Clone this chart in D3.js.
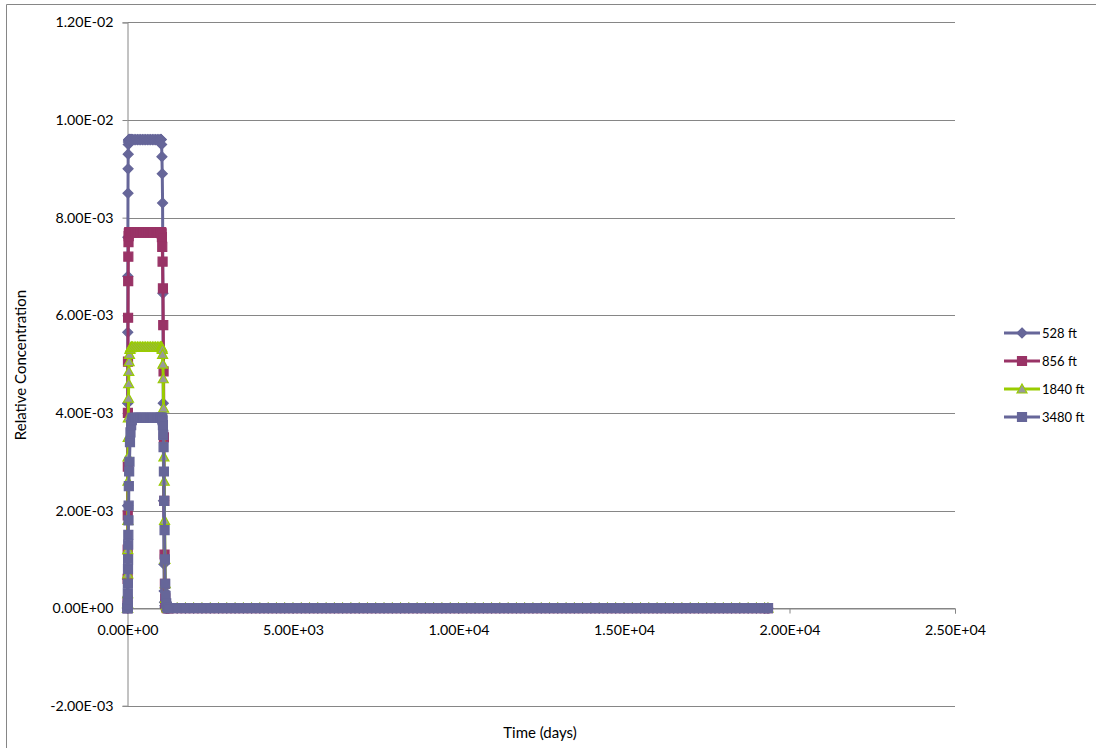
<!DOCTYPE html>
<html>
<head>
<meta charset="utf-8">
<script src="https://cdn.jsdelivr.net/npm/d3@7/dist/d3.min.js"></script>
<style>
  html, body { margin: 0; padding: 0; background: #fff; }
  svg { display: block; font-family: Lato, "Liberation Sans", sans-serif; }
</style>
</head>
<body>
<svg id="chart" width="1096" height="748"></svg>
<script>
// ---- data ----
const seriesNames = ["528 ft", "856 ft", "1840 ft", "3480 ft"];

const days = [
  0, 2, 4, 6, 8, 10, 12, 15, 18, 21, 25, 30, 35, 40, 50, 60, 75, 90, 110, 130, 150,
  200, 250, 300, 350, 400, 450, 500, 550, 600, 650, 700, 750, 800, 850, 900, 950, 1000,
  1010, 1020, 1030, 1040, 1050, 1060, 1070, 1080, 1090, 1100, 1110, 1120, 1130, 1140, 1150, 1170, 1190, 1220,
  1250, 1500, 1750, 2000, 2250, 2500, 2750, 3000, 3250, 3500, 3750, 4000, 4250, 4500, 4750,
  5000, 5250, 5500, 5750, 6000, 6250, 6500, 6750, 7000, 7250, 7500, 7750, 8000, 8250, 8500, 8750,
  9000, 9250, 9500, 9750, 10000, 10250, 10500, 10750, 11000, 11250, 11500, 11750, 12000, 12250,
  12500, 12750, 13000, 13250, 13500, 13750, 14000, 14250, 14500, 14750, 15000, 15250, 15500,
  15750, 16000, 16250, 16500, 16750, 17000, 17250, 17500, 17750, 18000, 18250, 18500, 18750,
  19000, 19250, 19350
];

// concentration values (x 1E-3) during the pulse, one per day entry up to 1220 days
const c528pulse = [
  0, 0.6, 2.1, 4.2, 5.65, 6.8, 7.6, 8.5, 9.0, 9.3, 9.5, 9.55, 9.58, 9.6, 9.6, 9.6, 9.6, 9.6, 9.6, 9.6, 9.6,
  9.6, 9.6, 9.6, 9.6, 9.6, 9.6, 9.6, 9.6, 9.6, 9.6, 9.6, 9.6, 9.6, 9.6, 9.6, 9.6, 9.6,
  9.6, 9.6, 9.5, 9.25, 8.9, 8.3, 6.45, 4.2, 2.2, 0.9, 0.35, 0.12, 0.05, 0.02, 0.01, 0, 0, 0
];
const c856pulse = [
  0, 0.1, 0.6, 1.2, 1.9, 2.9, 4.0, 5.05, 5.95, 6.7, 7.2, 7.5, 7.62, 7.68, 7.7, 7.7, 7.7, 7.7, 7.7, 7.7, 7.7,
  7.7, 7.7, 7.7, 7.7, 7.7, 7.7, 7.7, 7.7, 7.7, 7.7, 7.7, 7.7, 7.7, 7.7, 7.7, 7.7, 7.7,
  7.7, 7.7, 7.68, 7.6, 7.4, 7.1, 6.55, 5.8, 4.85, 3.5, 2.2, 1.1, 0.5, 0.2, 0.08, 0.02, 0, 0
];
const c1840pulse = [
  0, 0, 0.1, 0.3, 0.7, 1.2, 1.8, 2.6, 3.1, 3.5, 3.9, 4.3, 4.6, 4.85, 5.05, 5.2, 5.3, 5.33, 5.35, 5.35, 5.35,
  5.35, 5.35, 5.35, 5.35, 5.35, 5.35, 5.35, 5.35, 5.35, 5.35, 5.35, 5.35, 5.35, 5.35, 5.35, 5.35, 5.35,
  5.35, 5.35, 5.35, 5.33, 5.3, 5.2, 5.0, 4.7, 4.1, 3.1, 2.6, 1.8, 1.0, 0.5, 0.2, 0.05, 0.01, 0
];
const c3480pulse = [
  0, 0, 0, 0.05, 0.15, 0.3, 0.5, 0.8, 1.0, 1.3, 1.5, 1.8, 2.1, 2.5, 2.8, 3.0, 3.4, 3.6, 3.75, 3.85, 3.9,
  3.9, 3.9, 3.9, 3.9, 3.9, 3.9, 3.9, 3.9, 3.9, 3.9, 3.9, 3.9, 3.9, 3.9, 3.9, 3.9, 3.9,
  3.9, 3.9, 3.9, 3.9, 3.88, 3.85, 3.75, 3.55, 3.3, 2.8, 2.2, 1.6, 1.0, 0.5, 0.25, 0.1, 0.03, 0
];
// long tail after the pulse (x 1E-3), days 1250 .. 19350
const cTail = [
  0, 0, 0, 0, 0, 0, 0, 0, 0, 0, 0, 0, 0, 0, 0,
  0, 0, 0, 0, 0, 0, 0, 0, 0, 0, 0, 0, 0, 0, 0,
  0, 0, 0, 0, 0, 0, 0, 0, 0, 0, 0, 0, 0, 0, 0,
  0, 0, 0, 0, 0, 0, 0, 0, 0, 0, 0, 0, 0, 0, 0,
  0, 0, 0, 0, 0, 0, 0, 0, 0, 0, 0, 0, 0, 0
];

const yTicks = [-0.002, 0, 0.002, 0.004, 0.006, 0.008, 0.010, 0.012];
const yTickLabels = ["-2.00E-03", "0.00E+00", "2.00E-03", "4.00E-03", "6.00E-03", "8.00E-03", "1.00E-02", "1.20E-02"];
const xTicks = [0, 5000, 10000, 15000, 20000, 25000];
const xTickLabels = ["0.00E+00", "5.00E+03", "1.00E+04", "1.50E+04", "2.00E+04", "2.50E+04"];

// ---- build ----
const pulses = [c528pulse, c856pulse, c1840pulse, c3480pulse];
const styles = [
  { color: "#666699", fill: "#666699", marker: "diamond" },
  { color: "#993366", fill: "#993366", marker: "square" },
  { color: "#99CC00", fill: "#999999", marker: "triangle" },
  { color: "#666699", fill: "#666699", marker: "square" }
];
const series = seriesNames.map((name, i) => {
  const vals = pulses[i].concat(cTail);
  return { name, style: styles[i], points: days.map((d, j) => ({ x: d, y: vals[j] * 1e-3 })) };
});

const svg = d3.select("#chart");
const plotL = 127.5, plotR = 955, plotT = 22.4, plotB = 705.8;
const x = d3.scaleLinear().domain([0, 25000]).range([plotL, plotR]);
const y = d3.scaleLinear().domain([-0.002, 0.012]).range([plotB, plotT]);

// chart border
svg.append("path").attr("d", `M6.5,748 V4.5 H1096`).attr("fill", "none").attr("stroke", "#868686").attr("stroke-width", 1);

// gridlines
svg.append("g").selectAll("line").data(yTicks).join("line")
  .attr("x1", plotL).attr("x2", plotR)
  .attr("y1", d => Math.round(y(d)) + 0.5).attr("y2", d => Math.round(y(d)) + 0.5)
  .attr("stroke", "#868686").attr("stroke-width", 1);

// y axis
const yAxis = d3.axisLeft(y).tickValues(yTicks).tickFormat((d, i) => yTickLabels[i]).tickSize(5).tickPadding(9);
const gy = svg.append("g").attr("transform", `translate(${plotL},0)`).call(yAxis);
gy.select(".domain").attr("stroke", "#868686");
gy.selectAll(".tick line").attr("stroke", "#868686");
gy.selectAll(".tick text").attr("font-family", "Lato, sans-serif").attr("font-size", 14.2).attr("fill", "#000");

// x axis at y=0
const xAxis = d3.axisBottom(x).tickValues(xTicks).tickFormat((d, i) => xTickLabels[i]).tickSize(5).tickPadding(11);
const gx = svg.append("g").attr("transform", `translate(0,${Math.round(y(0)) + 0.5})`).call(xAxis);
gx.select(".domain").attr("stroke", "#868686");
gx.selectAll(".tick line").attr("stroke", "#868686");
gx.selectAll(".tick text").attr("font-family", "Lato, sans-serif").attr("font-size", 14.2).attr("fill", "#000");

// axis titles
svg.append("text").attr("x", 540).attr("y", 738).attr("text-anchor", "middle")
  .attr("font-size", 15).attr("fill", "#000").text("Time (days)");
svg.append("text").attr("transform", `translate(26,365) rotate(-90)`).attr("text-anchor", "middle")
  .attr("font-size", 15).attr("fill", "#000").text("Relative Concentration");

// markers
function markerPath(type, cx, cy) {
  if (type === "diamond") return `M${cx},${cy - 5} L${cx + 5},${cy} L${cx},${cy + 5} L${cx - 5},${cy} Z`;
  if (type === "square") return `M${cx - 4.5},${cy - 4.5} h9 v9 h-9 Z`;
  return `M${cx},${cy - 5} L${cx + 5},${cy + 4} L${cx - 5},${cy + 4} Z`;
}

const line = d3.line().x(d => x(d.x)).y(d => y(d.y));
const gs = svg.append("g");
series.forEach(s => {
  const g = gs.append("g");
  g.append("path").datum(s.points).attr("d", line)
    .attr("fill", "none").attr("stroke", s.style.color).attr("stroke-width", 3).attr("stroke-linejoin", "round");
  g.selectAll("path.m").data(s.points).join("path").attr("class", "m")
    .attr("d", d => markerPath(s.style.marker, x(d.x), y(d.y)))
    .attr("fill", s.style.fill).attr("stroke", s.style.color).attr("stroke-width", 1.2);
});

// legend
const legendY = [333, 361, 389, 417];
const lg = svg.append("g");
series.forEach((s, i) => {
  const yy = legendY[i];
  lg.append("line").attr("x1", 1004).attr("x2", 1040).attr("y1", yy).attr("y2", yy)
    .attr("stroke", s.style.color).attr("stroke-width", 3);
  lg.append("path").attr("d", markerPath(s.style.marker, 1022, yy))
    .attr("fill", s.style.fill).attr("stroke", s.style.color).attr("stroke-width", 1.2);
  lg.append("text").attr("x", 1042).attr("y", yy + 4.5).attr("font-size", 13).attr("fill", "#000").text(s.name);
});
</script>
</body>
</html>
